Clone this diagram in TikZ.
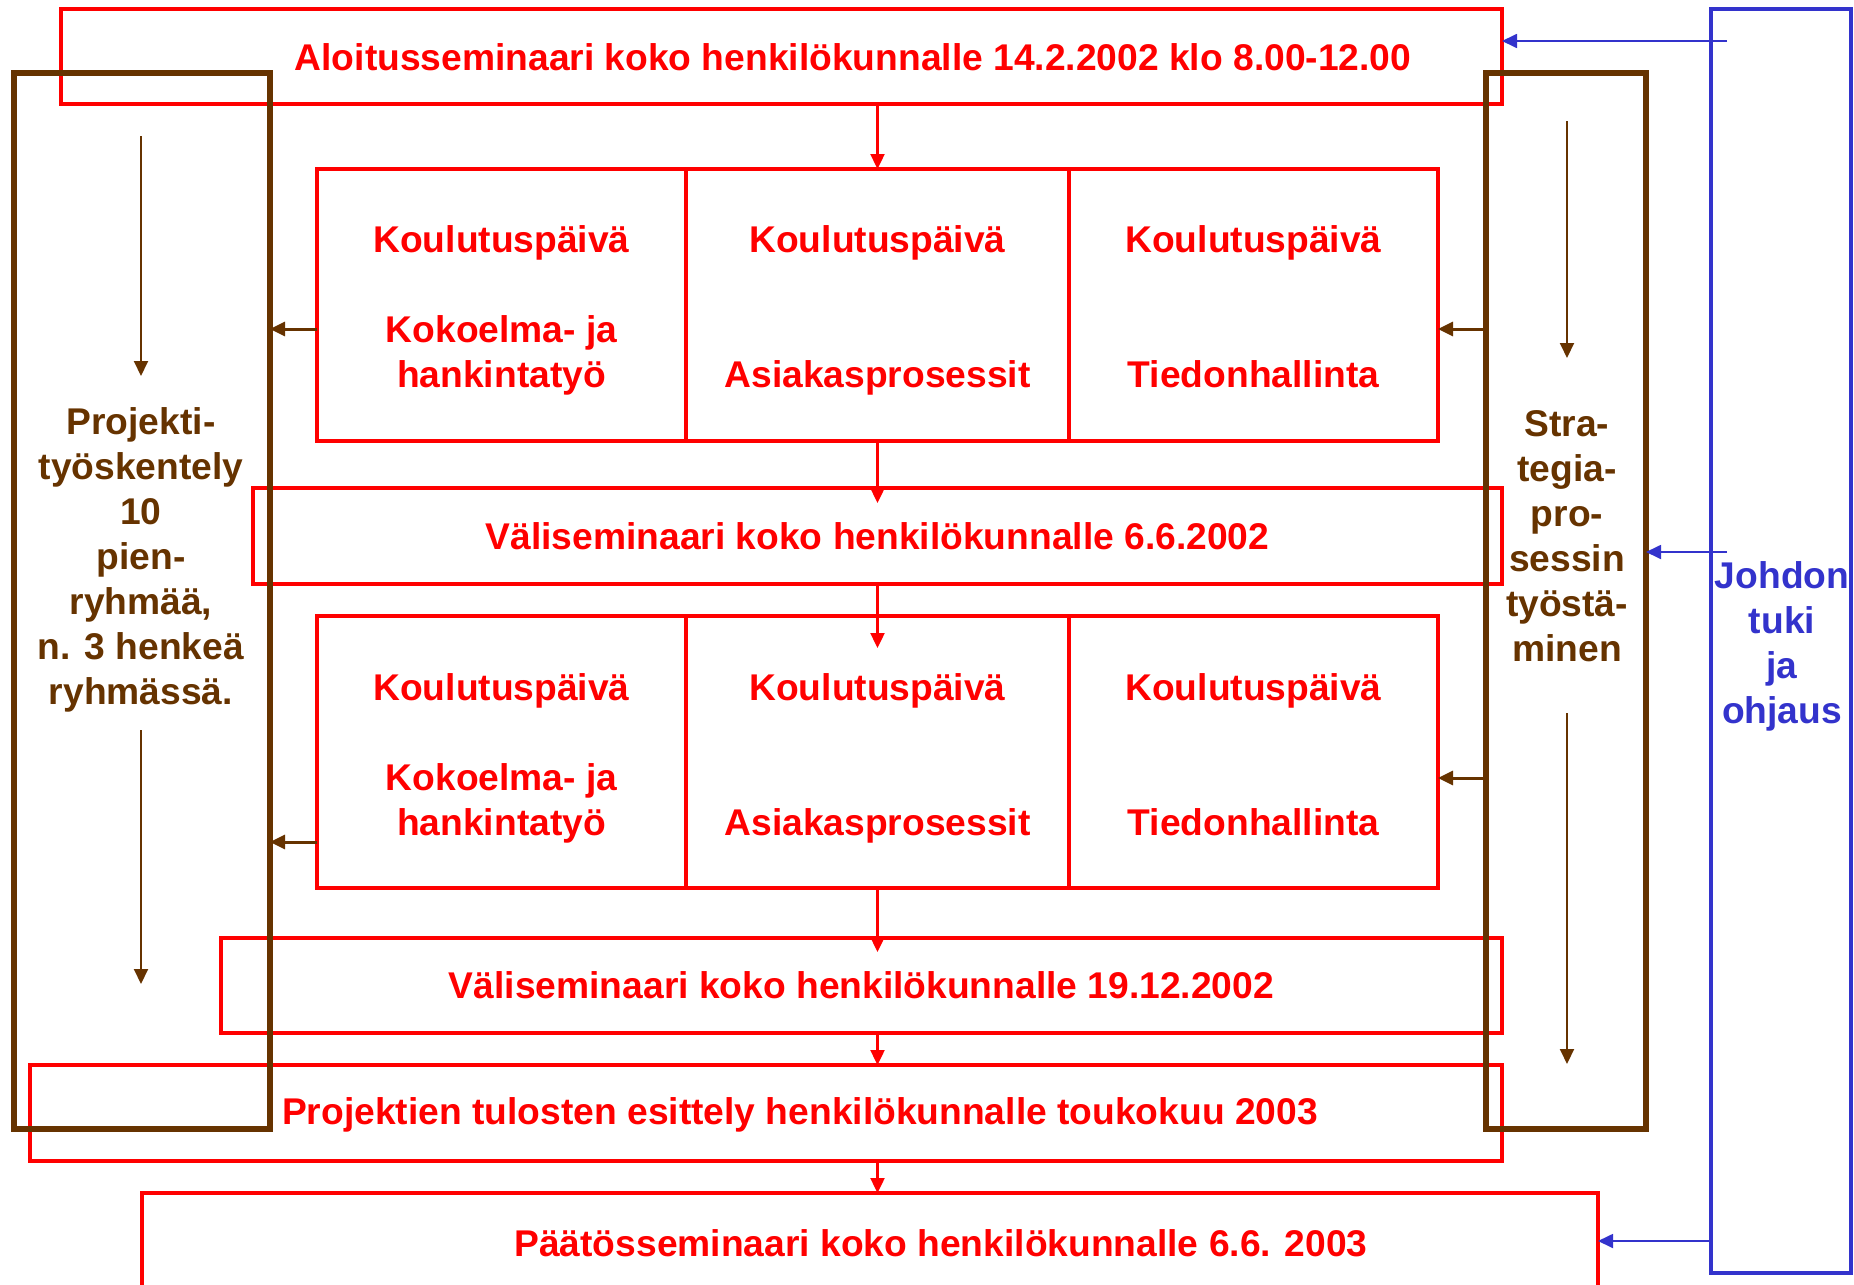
\documentclass[tikz,border=0pt]{standalone}
\usepackage{fontspec}
\setmainfont{Liberation Sans}
\usepackage{xcolor}
\usepackage{tikz}
\usetikzlibrary{arrows.meta,calc,positioning}
\definecolor{ruskea}{RGB}{102,51,0}
\definecolor{sininen}{RGB}{51,51,204}

\begin{document}
\begin{tikzpicture}[x=0.5pt,y=-0.5pt,
    font=\bfseries\fontsize{18.6}{22.5}\selectfont,
    redbox/.style={draw=red,line width=1.6pt,inner sep=0pt,outer sep=0pt},
    cell/.style={redbox,text=red,align=center,minimum width=#1,minimum height=136pt},
    redtext/.style={text=red},
    brownbox/.style={draw=ruskea,line width=2.6pt,inner sep=0pt,outer sep=0pt},
    browntext/.style={text=ruskea,align=center},
    bluebox/.style={draw=sininen,line width=1.7pt,inner sep=0pt,outer sep=0pt},
    bluetext/.style={text=sininen,align=center},
    redarrow/.style={draw=red,line width=1.2pt,-{Triangle[length=7.5pt,width=7pt]}},
    brownarrow/.style={draw=ruskea,line width=1.5pt,-{Triangle[length=7.5pt,width=7pt]}},
    brownthin/.style={draw=ruskea,line width=1pt,-{Triangle[length=7.5pt,width=7pt]}},
    bluearrow/.style={draw=sininen,line width=0.9pt,-{Triangle[length=7.5pt,width=7pt]}}]
  \useasboundingbox (0,0) rectangle (1854,1285);

  % seminaarit
  \node[redbox,minimum width=720.5pt,minimum height=47.5pt] (alku) at (781.5,56.5) {};
  \node[redtext] (alkut) at (853,57) {Aloitusseminaari koko henkilökunnalle 14.2.2002 klo 8.00-12.00};
  \node[redbox,redtext,minimum width=624.5pt,minimum height=48pt] (vali1) at (877.5,536)
    {Väliseminaari koko henkilökunnalle 6.6.2002};
  \node[redbox,redtext,minimum width=640.5pt,minimum height=47.5pt] (vali2) at (861.5,985.5)
    {Väliseminaari koko henkilökunnalle 19.12.2002};
  \node[redbox,minimum width=736pt,minimum height=48pt] (esittely) at (766,1113) {};
  \node[redtext] (esittelyt) at (800,1115) {Projektien tulosten esittely henkilökunnalle toukokuu 2003};
  \node[redbox,minimum width=728pt,minimum height=48pt] (paatos) at (870,1241) {};
  \node[redtext] (paatost) at (941,1243) {Päätösseminaari koko henkilökunnalle 6.6. 2003};

  % koulutuspaivat
  \node[cell=184.5pt] (k1a) at (501.5,305)
    {\rule{0pt}{18.5pt}Koulutuspäivä\\~\\Kokoelma- ja\\hankintatyö};
  \node[cell=191.5pt,right=0pt of k1a] (k1b)
    {\rule{0pt}{18.5pt}Koulutuspäivä\\~\\~\\Asiakasprosessit};
  \node[cell=184.5pt,right=0pt of k1b] (k1c)
    {\rule{0pt}{18.5pt}Koulutuspäivä\\~\\~\\Tiedonhallinta\vphantom{y}};
  \node[cell=184.5pt] (k2a) at (501.5,752)
    {\rule{0pt}{20pt}Koulutuspäivä\\~\\Kokoelma- ja\\hankintatyö};
  \node[cell=191.5pt,right=0pt of k2a] (k2b)
    {\rule{0pt}{20pt}Koulutuspäivä\\~\\~\\Asiakasprosessit};
  \node[cell=184.5pt,right=0pt of k2b] (k2c)
    {\rule{0pt}{20pt}Koulutuspäivä\\~\\~\\Tiedonhallinta\vphantom{y}};

  % reunat
  \node[brownbox,minimum width=128pt,minimum height=528pt] (projbox) at (142,601) {};
  \node[browntext] (projt) at (141,560)
    {Projekti-\\työskentely\\10\\pien-\\ryhmää,\\n. 3 henkeä\\ryhmässä.};
  \node[brownbox,minimum width=80pt,minimum height=528pt] (strat) at (1566,601) {};
  \node[browntext] (stratt) at (1567,536) {Stra-\\tegia-\\pro-\\sessin\\työstä-\\minen};
  \node[bluebox,minimum width=70pt,minimum height=632pt] (johto) at (1781,641) {};
  \node[bluetext] (johtot) at (1782,646) {Johdon\\tuki\\ja\\ohjaus};

  \draw[redarrow] (alku.south -| k1b) -- (k1b.north);
  \draw[redarrow] (k1b.south) -- ($(vali1.north)+(0,15)$);
  \draw[redarrow] (vali1.south) -- ($(k2b.north)+(0,32)$);
  \draw[redarrow] (k2b.south) -- ($(k2b.south |- vali2.north)+(0,14)$);
  \draw[redarrow] (vali2.south -| k2b) -- (esittely.north -| k2b);
  \draw[redarrow] (esittely.south -| k2b) -- (paatos.north -| k2b);

  \draw[brownarrow] ($(k1a.west)+(0,24)$) -- ($(projbox.east |- k1a.west)+(0,24)$);
  \draw[brownarrow] ($(k2a.west)+(0,90)$) -- ($(projbox.east |- k2a.west)+(0,90)$);
  \draw[brownarrow] ($(strat.west |- k1c.east)+(0,24)$) -- ($(k1c.east)+(0,24)$);
  \draw[brownarrow] ($(strat.west |- k2c.east)+(0,26)$) -- ($(k2c.east)+(0,26)$);

  \coordinate (pa1) at (141,136);  \coordinate (pa2) at (141,376);
  \coordinate (pa3) at (141,730);  \coordinate (pa4) at (141,984);
  \coordinate (sa1) at (1567,121); \coordinate (sa2) at (1567,358);
  \coordinate (sa3) at (1567,713); \coordinate (sa4) at (1567,1064);
  \draw[brownthin] (pa1) -- (pa2);
  \draw[brownthin] (pa3) -- (pa4);
  \draw[brownthin] (sa1) -- (sa2);
  \draw[brownthin] (sa3) -- (sa4);

  \coordinate (j1) at (1727,41);
  \coordinate (j2) at (1727,552);
  \draw[bluearrow] (j1) -- (alku.east |- j1);
  \draw[bluearrow] (j2) -- (strat.east |- j2);
  \draw[bluearrow] (johto.west |- paatos.east) -- (paatos.east);
\end{tikzpicture}
\end{document}
